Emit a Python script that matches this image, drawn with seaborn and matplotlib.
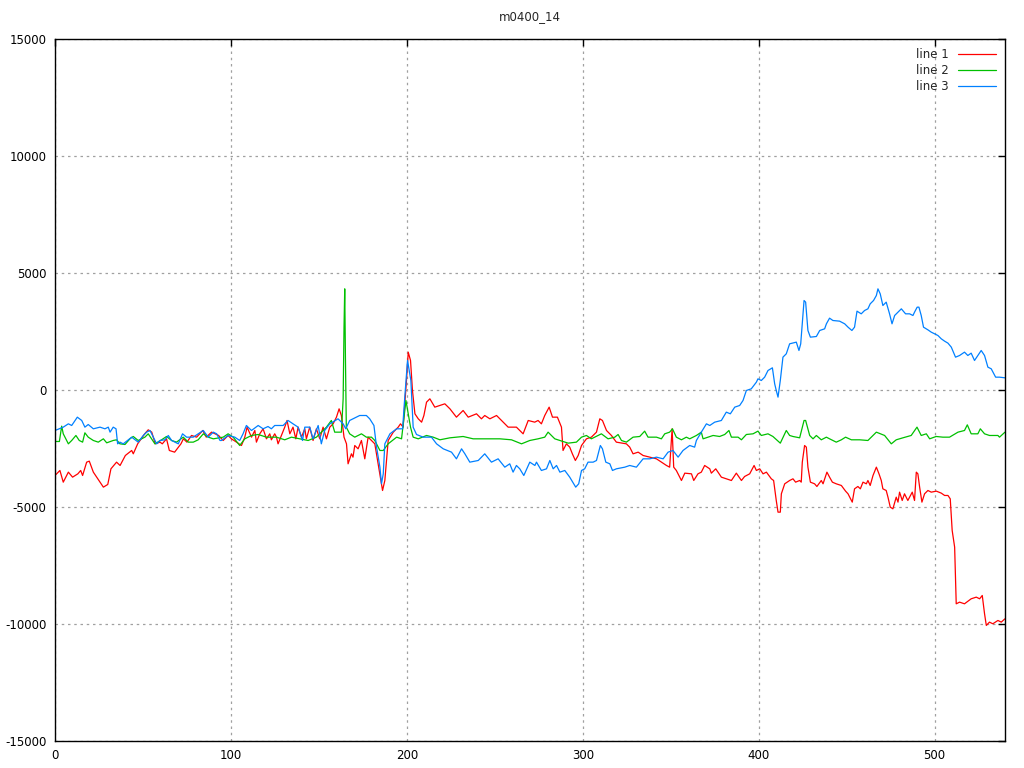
import matplotlib
matplotlib.use('Agg')
import matplotlib.pyplot as plt
import seaborn as sns

# (x, value) readings for each series
line1 = [(0,-3654),(2.8,-3440),(4.7,-3939),(7.6,-3511),(10,-3725),(13,-3583),(14.6,-3440),(15.7,-3654),(18,-3084),(19.5,-3041),(21.8,-3511),(25,-3868),(27.5,-4152),(30,-4038),(31.8,-3369),(35,-3084),(37,-3226),(40,-2799),(43.6,-2585),(44.5,-2728),(47,-2301),(51,-1873),(53,-1702),(55,-1802),(57,-2301),(59.7,-2229),(61,-2301),(63.4,-2087),(65,-2585),(68,-2657),(71.6,-2301),(73,-2087),(75,-2229),(77.6,-1944),(80.5,-2016),(84,-1731),(86,-2016),(89,-1802),(93,-1944),(95.6,-2158),(98.4,-1944),(100.3,-2087),(103.2,-2229),(106,-2372),(107.9,-2016),(109.2,-1588),(111.7,-2016),(113.6,-1731),(114.5,-2229),(116.4,-1873),(118.3,-1659),(120.2,-2087),(122.1,-1873),(123,-2129),(124.9,-1873),(125.9,-2016),(126.8,-2301),(128.7,-1944),(130.6,-1588),(131.9,-1303),(133.5,-1873),(135.3,-1588),(136.9,-2087),(138.2,-1588),(140.1,-2016),(142,-1659),(142.9,-2087),(144.8,-1588),(146.7,-2158),(148.6,-1659),(150.5,-2087),(152.4,-1588),(154.3,-2087),(156.2,-1588),(158.1,-1446),(160,-1161),(161.5,-805),(162.8,-1090),(164.3,-2016),(165.7,-2301),(166.6,-3155),(168.5,-2728),(169.4,-2870),(170.4,-2372),(172.3,-2514),(174.2,-2158),(176.1,-2942),(178,-2016),(181.8,-2301),(183.7,-3155),(186.2,-4295),(187.5,-3868),(189.4,-2158),(192.3,-1802),(195.1,-1588),(196.4,-1446),(197.9,-1588),(199.8,406),(200.8,1617),(202.1,1261),(203.2,-21),(204.6,-1018),(206.5,-1232),(208.4,-1375),(209.7,-1090),(211.2,-520),(213.1,-377),(215.9,-733),(218.8,-662),(221.6,-591),(224.5,-805),(228.2,-1161),(232,-876),(234.9,-1161),(239.6,-1018),(242.4,-1232),(244.3,-1090),(247.2,-1232),(251,-1090),(254.8,-1375),(257.6,-1588),(262.3,-1588),(266.1,-1873),(269,-1303),(272.7,-1375),(274.6,-1303),(276.5,-1446),(278.4,-1090),(280.9,-733),(282.8,-1161),(285.6,-1161),(287.9,-1588),(288.8,-2585),(290.7,-2301),(292.6,-2443),(294.1,-2728),(295.8,-3013),(297.4,-2799),(299.3,-2372),(302.1,-2087),(304.9,-2016),(307.8,-1802),(309.7,-1232),(311.2,-1303),(313.5,-1731),(316.3,-1944),(319.1,-2229),(324.8,-2301),(326.7,-2443),(328.6,-2728),(331.5,-2657),(334.3,-2799),(338.1,-2870),(341.9,-2942),(344.7,-3084),(347.6,-3226),(349.4,-3298),(350.8,-1659),(351.7,-3298),(353.2,-3440),(356.1,-3868),(358,-3554),(361.8,-3583),(363.1,-3868),(365.5,-3583),(367.4,-3511),(369.3,-3226),(372.2,-3369),(373.1,-3554),(375.6,-3369),(378.8,-3725),(381.6,-3796),(384.5,-3868),(387.3,-3554),(390.2,-3868),(392,-3697),(394.9,-3583),(397.4,-3226),(398.7,-3440),(400.6,-3369),(402.5,-3583),(404.4,-3511),(407.2,-3796),(408.5,-3868),(410,-4722),(411,-5221),(412.3,-5221),(412.9,-4437),(414.8,-4010),(417.6,-3868),(419.5,-3796),(421,-3939),(423.3,-3868),(424.2,-3939),(424.8,-3084),(426.1,-2372),(427.1,-2443),(428,-3298),(429.4,-3939),(431.8,-4010),(433.1,-4124),(435.6,-3868),(436.6,-4010),(438.8,-3511),(440.3,-3725),(441.9,-3939),(444.1,-4010),(447,-4081),(449.4,-4323),(450.8,-4437),(453.2,-4793),(454.5,-4224),(456.4,-4124),(457.8,-4224),(459.3,-3939),(461.2,-4010),(462.1,-3868),(463.4,-4081),(465,-3654),(466.9,-3298),(468.4,-3583),(469.7,-3868),(470.6,-4224),(472.5,-4295),(473.5,-4580),(474.8,-5007),(476.3,-5078),(478.2,-4580),(479.2,-4793),(480.1,-4366),(481.6,-4722),(482.9,-4437),(484.8,-4722),(487.3,-4366),(488.6,-4722),(489.6,-3511),(490.5,-3583),(491.5,-4152),(492.8,-4793),(494.3,-4437),(496.2,-4295),(498.1,-4366),(501,-4323),(503.8,-4408),(505.7,-4508),(507.6,-4508),(508.9,-4651),(510,-6004),(511.4,-6716),(512.3,-9138),(514.2,-9067),(517,-9138),(520.8,-8924),(523.7,-8853),(525.6,-8924),(527.1,-8782),(528.4,-9565),(529.4,-10063),(531.2,-9921),(533.1,-9992),(536,-9850),(537.9,-9921),(540,-9779)]

line2 = [(0,-2201),(2.5,-2201),(3.8,-1545),(4.7,-1873),(7.6,-2301),(9.5,-2158),(11.9,-1944),(13.8,-2158),(15.7,-2229),(17,-1830),(18.9,-2016),(21.8,-2158),(24.6,-2229),(27.5,-2087),(29.4,-2258),(33.1,-2158),(35,-2129),(36.9,-2301),(39.8,-2329),(42.6,-2087),(44.5,-1987),(47.3,-2158),(51.1,-2016),(53,-1873),(56.8,-2301),(60.6,-2129),(63.4,-1987),(66.3,-2158),(69.1,-2229),(72.9,-2016),(75.8,-2229),(78.6,-2229),(81.4,-2129),(84.3,-1873),(87.1,-2016),(90,-2087),(95.6,-2016),(98.4,-1873),(101.3,-2016),(105,-2372),(107.9,-2087),(111.7,-1944),(115.5,-1902),(120.2,-2016),(125.9,-2016),(130.6,-2129),(134.4,-2016),(139.1,-2087),(143.9,-2158),(148.6,-2016),(154.3,-1588),(157.1,-1303),(159,-1802),(162.8,-1802),(163.8,-377),(164.3,2685),(164.7,4323),(165.1,1403),(165.6,-1588),(167.5,-1873),(170.4,-2016),(174.2,-1873),(177,-2016),(179.9,-2016),(181.8,-2158),(184.7,-2585),(186.6,-2585),(189.4,-2301),(194.2,-2016),(197,-2087),(199.5,-449),(200.8,-1018),(202.1,-1588),(203.6,-2016),(206.5,-2087),(211.2,-1944),(215,-2016),(218.8,-2129),(224.5,-2044),(232,-1987),(237.7,-2087),(245.3,-2087),(252.9,-2087),(259.5,-2129),(265.2,-2301),(269.9,-2158),(274.6,-2087),(278.4,-2016),(280.3,-1802),(282.2,-1944),(284.1,-2087),(287,-2158),(291.7,-2272),(296.4,-2229),(299.3,-2016),(302.1,-1944),(304.9,-2087),(310.6,-1873),(314.4,-2087),(318.2,-2016),(320.1,-1902),(322,-2158),(324.8,-2229),(328.6,-2016),(332.4,-1987),(335.2,-1759),(337.1,-2016),(341.9,-2016),(344.7,-2087),(346.6,-1873),(349.4,-1802),(351,-1659),(353.2,-2016),(356.1,-2129),(358.9,-2016),(360.8,-2087),(364.6,-1944),(367.4,-1802),(368.4,-2087),(371.2,-2016),(374.1,-1944),(377.8,-1987),(380.7,-1902),(383.1,-1731),(384.5,-2016),(388.3,-2016),(390.2,-2129),(393,-1902),(396.8,-1873),(399.6,-1759),(401.5,-1944),(405.3,-1873),(408.1,-1987),(412.3,-2272),(415.7,-1731),(417.6,-1944),(419.5,-1987),(423.3,-2044),(425.8,-1303),(426.7,-1303),(429,-1944),(430.9,-2087),(432.8,-1944),(435.6,-2129),(438.5,-2016),(440.3,-2087),(444.1,-2229),(447,-2129),(449.4,-2016),(452.7,-2129),(457.4,-2129),(462.1,-2158),(466.9,-1802),(471.6,-1944),(475.4,-2301),(478.2,-2129),(482,-2044),(486.7,-1944),(490,-1588),(492.4,-1944),(495.3,-1873),(497.2,-2087),(500.9,-1987),(504.7,-2016),(508.5,-2016),(513.3,-1802),(517,-1731),(518.6,-1489),(520.8,-1873),(524.6,-1873),(526,-1659),(528.4,-1873),(531.2,-1944),(536,-1944),(536.9,-2016),(540,-1802)]

line3 = [(0,-1731),(4.7,-1588),(7.6,-1446),(9.5,-1517),(12.7,-1161),(15.2,-1303),(17,-1588),(18.9,-1475),(21.8,-1659),(25.6,-1588),(28.4,-1659),(30.3,-1588),(31.3,-1802),(33.1,-1588),(34.7,-1659),(35.6,-2301),(36.9,-2229),(38.8,-2301),(43.6,-2016),(47.3,-2229),(50.2,-1944),(52.1,-1802),(54,-1731),(55.9,-2016),(57.8,-2301),(59.7,-2158),(62.5,-2129),(64.4,-1944),(66.3,-2158),(70.1,-2301),(72.5,-1873),(74.8,-2016),(78.6,-2016),(81.4,-1873),(84.3,-1731),(87.1,-2016),(90,-1802),(91.9,-1873),(93.8,-2158),(94.6,-2158),(98.4,-1944),(102.2,-2016),(105,-2158),(106.9,-1873),(108.8,-1517),(111.7,-1731),(115.5,-1517),(118.3,-1659),(121.1,-1560),(123,-1659),(124.9,-1517),(129.7,-1517),(132.5,-1303),(135.3,-1446),(138.2,-1588),(140.7,-2158),(142,-1588),(144.8,-1588),(146.7,-2087),(149.6,-1517),(151.4,-2301),(153.3,-1731),(156.2,-1446),(160.9,-1232),(163.8,-1446),(165.3,-1659),(167.5,-1303),(173.2,-1090),(177,-1090),(178.9,-1232),(181.3,-1517),(182.8,-2443),(184.7,-3298),(185.6,-4010),(186.6,-3583),(187.5,-2301),(190.4,-1873),(194.2,-1659),(197.6,-1659),(198.9,-235),(200.4,1261),(202.3,406),(203.6,-1588),(205.5,-1902),(209.3,-2016),(214,-2016),(216.9,-2301),(220.7,-2514),(225.4,-2657),(228.2,-2942),(231.1,-2514),(233,-2728),(235.8,-3084),(240.6,-3013),(244.3,-2728),(248.1,-3084),(251.9,-2942),(255.7,-3298),(258.5,-3155),(260.4,-3511),(262.3,-3226),(264.2,-3369),(266.5,-3654),(269.9,-3084),(272.8,-3226),(273.7,-3084),(276.5,-3440),(279.4,-3369),(281.3,-3013),(283.2,-3369),(285.1,-3226),(287,-3511),(289.8,-3440),(292.6,-3725),(296,-4152),(297.7,-4010),(299.3,-3440),(301.1,-3369),(303,-3084),(305.9,-3084),(307.8,-3013),(310,-2372),(311.2,-2514),(313.1,-3084),(315.4,-3155),(316.9,-3440),(319.1,-3369),(323.9,-3298),(326.7,-3226),(330.5,-3298),(334.3,-2942),(338.1,-2942),(341.9,-2870),(345.7,-2942),(348.5,-2657),(351.3,-2585),(354.2,-2870),(357,-2585),(360.8,-2372),(363.6,-2443),(364.6,-2158),(367.4,-1802),(370.3,-1446),(372.2,-1517),(375,-1375),(378.8,-1303),(381.6,-947),(383.9,-1018),(386.4,-733),(389.2,-662),(391.1,-449),(393,-21),(395.8,50),(398.7,335),(399.6,477),(401.5,406),(403.4,548),(405.3,833),(407.8,947),(409.1,264),(410,-21),(411,-306),(412.3,406),(413.8,1403),(415.7,1546),(417.6,1973),(421.4,2045),(422.9,1688),(423.9,1973),(425.8,3825),(426.7,3754),(428,2543),(429.4,2258),(432.8,2286),(434.7,2543),(437.5,2614),(438.5,2828),(440.3,3070),(442.2,2970),(446,2942),(448.9,2828),(450.8,2685),(453,2543),(454.5,2685),(455.9,3369),(458.3,3255),(460.2,3397),(462.1,3469),(463.4,3682),(465.3,3825),(466.9,4038),(467.8,4323),(469.1,4109),(470.6,3611),(472.5,3754),(474.4,3255),(475.8,2828),(477.3,3184),(479.2,3326),(481.1,3469),(483.5,3255),(485.8,3255),(487.7,3184),(488.6,3326),(490.1,3540),(491.1,3540),(492.4,3184),(493.7,2685),(496.2,2571),(498.1,2472),(500,2400),(501.9,2329),(503.8,2187),(505.7,2087),(507.6,2002),(509.5,1831),(511.9,1403),(514.2,1474),(517,1617),(518.9,1474),(520.8,1574),(522.7,1261),(524.6,1474),(526.5,1688),(528.4,1474),(530.3,976),(532.2,905),(534.7,548),(536.9,548),(540,520)]

series_names = ['line 1', 'line 2', 'line 3']
series_colors = ['#ff0000', '#00c000', '#0080ff']
x_ticks = [0, 100, 200, 300, 400, 500]
y_ticks = [-15000, -10000, -5000, 0, 5000, 10000, 15000]

sns.set_style('white')
plt.rcParams['font.family'] = ['DejaVu Sans']
plt.rcParams['axes.unicode_minus'] = False

fig = plt.figure(figsize=(10.24, 7.68), dpi=100)
ax = fig.add_axes([0.0537, 0.0352, 0.9277, 0.914])

for data, name, color in zip([line1, line2, line3], series_names, series_colors):
    xs, ys = zip(*data)
    sns.lineplot(x=list(xs), y=list(ys), ax=ax, color=color, linewidth=0.9,
                 label=name, estimator=None, sort=False)

ax.set_xlim(0, 540)
ax.set_ylim(-15000, 15000)
ax.set_xticks(x_ticks)
ax.set_yticks(y_ticks)
ax.grid(True, color='#a0a0a0', linestyle=(0, (2, 3)), linewidth=0.9)
ax.tick_params(direction='in', length=5, width=1, top=True, right=True,
               labelsize=8.5, colors='black', pad=6)
for s in ax.spines.values():
    s.set_color('black')
    s.set_linewidth(1)
ax.set_title('m0400_14', fontsize=8.5, pad=14)

ax.legend(loc='upper right', frameon=False, markerfirst=False, fontsize=8.5,
          handlelength=3.2, labelspacing=0.25, borderaxespad=0.4)

fig.savefig('out.png', dpi=100)
